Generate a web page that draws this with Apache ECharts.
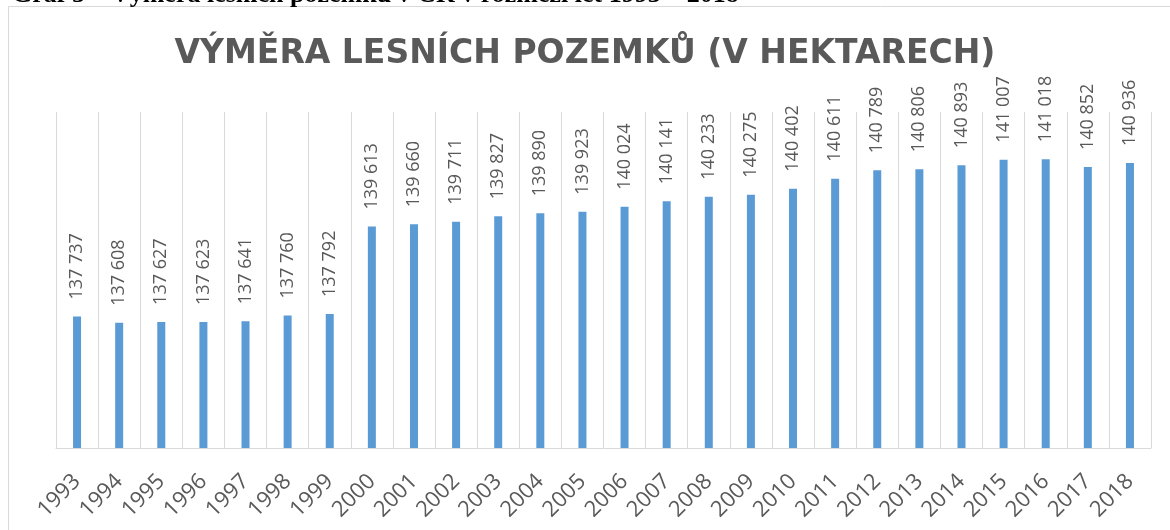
<!DOCTYPE html>
<html>
<head>
<meta charset="utf-8">
<script src="https://cdn.jsdelivr.net/npm/echarts@6/dist/echarts.min.js"></script>
<style>
  html, body { margin: 0; padding: 0; background: #fff; }
  #chart { width: 1170px; height: 530px; }
</style>
</head>
<body>
<div id="chart"></div>
<script>
const years = ['1993', '1994', '1995', '1996', '1997', '1998', '1999', '2000', '2001', '2002', '2003', '2004', '2005',
  '2006', '2007', '2008', '2009', '2010', '2011', '2012', '2013', '2014', '2015', '2016', '2017', '2018']
const area = [137737, 137608, 137627, 137623, 137641, 137760, 137792, 139613, 139660, 139711, 139827, 139890, 139923,
  140024, 140141, 140233, 140275, 140402, 140611, 140789, 140806, 140893, 141007, 141018, 140852, 140936]
const titleText = 'VÝMĚRA LESNÍCH POZEMKŮ (V HEKTARECH)'
const captionText = 'Graf 5 – Výměra lesních pozemků v ČR v rozmezí let 1993 – 2018'

const grey = '#595959'

// 137737 -> "137 737"
const fmt = v => {
  const s = String(v)
  return s.slice(0, s.length - 3) + ' ' + s.slice(-3)
}

const chart = echarts.init(document.getElementById('chart'))
chart.setOption({
  animation: false,
  title: {
    text: titleText,
    left: 'center',
    top: 33,
    textStyle: {
      color: grey,
      fontFamily: 'DejaVu Sans',
      fontWeight: 'bold',
      fontSize: 33
    }
  },
  graphic: [
    {
      type: 'rect',
      silent: true,
      shape: { x: 8.5, y: 6.5, width: 1200, height: 600 },
      style: { fill: 'none', stroke: '#d9d9d9', lineWidth: 1 }
    },
    {
      type: 'text',
      silent: true,
      style: {
        x: 12,
        y: -4.5,
        text: captionText,
        font: 'bold 26px "Liberation Serif"',
        fill: '#000',
        verticalAlign: 'middle'
      }
    }
  ],
  grid: {
    left: 56,
    right: 19,
    top: 112,
    bottom: 82
  },
  xAxis: {
    type: 'category',
    data: years,
    axisTick: { show: false },
    axisLine: { lineStyle: { color: '#d9d9d9', width: 1 } },
    axisLabel: {
      interval: 0,
      rotate: 45,
      margin: 30,
      color: grey,
      fontFamily: 'Open Sans',
      fontSize: 22
    },
    splitLine: {
      show: true,
      interval: 0,
      lineStyle: { color: '#d9d9d9', width: 1 }
    }
  },
  yAxis: {
    type: 'value',
    min: 135000,
    max: 142000,
    interval: 1000,
    show: false
  },
  series: [{
    type: 'bar',
    data: area,
    barWidth: 8,
    itemStyle: { color: '#5b9bd5' },
    label: {
      show: true,
      position: 'top',
      distance: 17,
      rotate: 90,
      align: 'left',
      verticalAlign: 'middle',
      color: grey,
      fontFamily: 'Open Sans',
      fontSize: 18,
      formatter: p => fmt(p.value)
    }
  }]
})
</script>
</body>
</html>
